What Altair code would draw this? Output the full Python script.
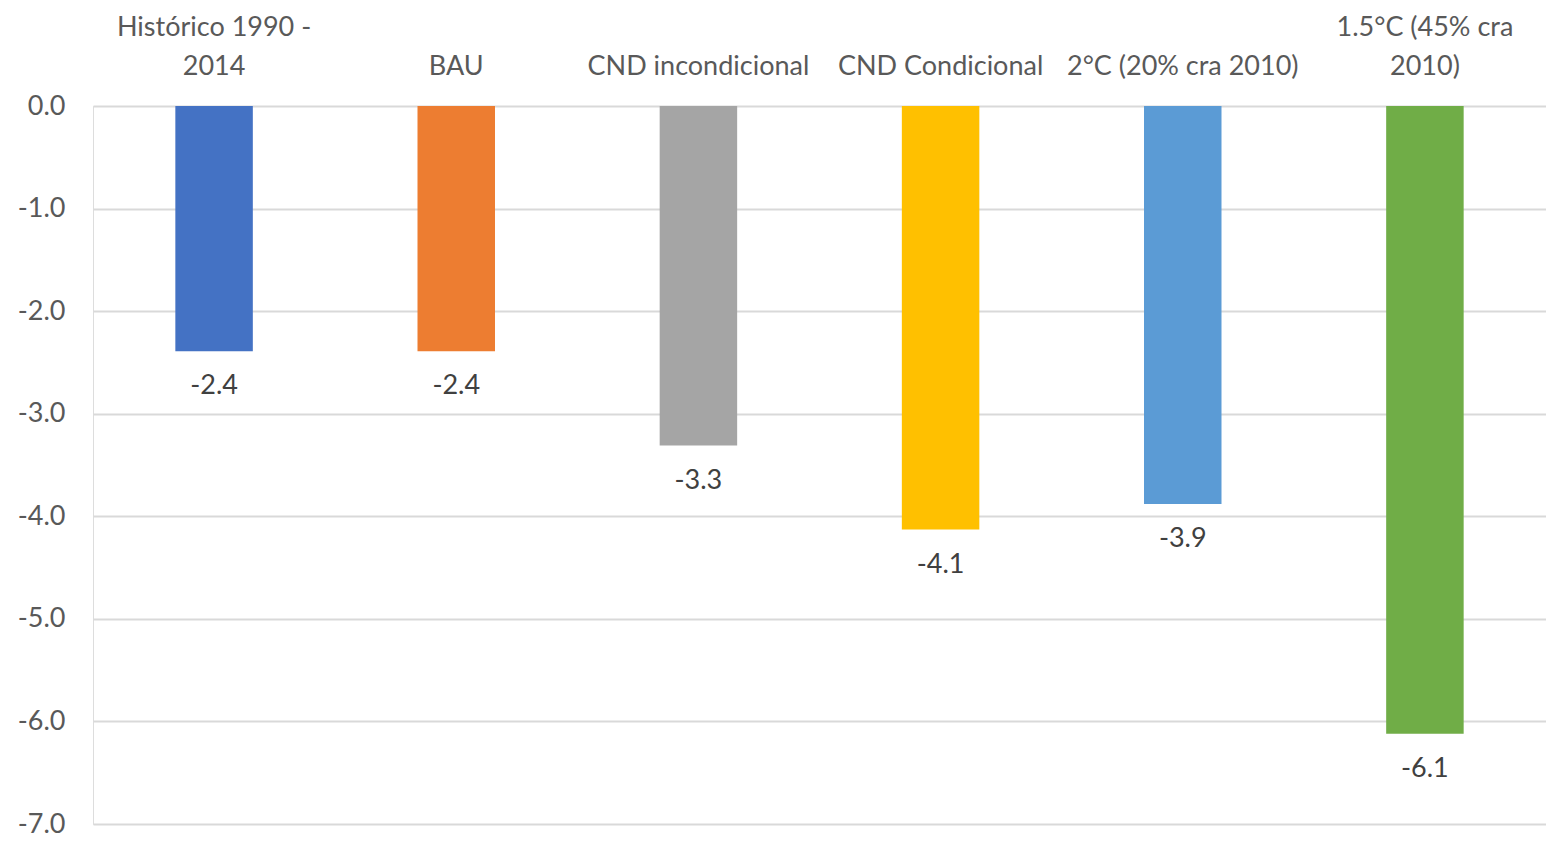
import altair as alt
import pandas as pd

categories = ["Histórico 1990 -|2014", "|BAU", "|CND incondicional", "|CND Condicional",
              "|2°C (20% cra 2010)", "1.5°C (45% cra|2010)"]
values = [-2.39, -2.39, -3.31, -4.13, -3.88, -6.12]
labels = ["-2.4", "-2.4", "-3.3", "-4.1", "-3.9", "-6.1"]
colors = ["#4472C4", "#ED7D31", "#A5A5A5", "#FFC000", "#5B9BD5", "#70AD47"]

df = pd.DataFrame({"cat": categories, "val": values, "lab": labels})

FONT = "Lato"

x = alt.X("cat:N", sort=None, title=None,
          scale=alt.Scale(paddingInner=0.68, paddingOuter=0.34),
          axis=alt.Axis(orient="top", labelAngle=0, ticks=False, domain=False,
                        labelExpr="split(datum.label, '|')", labelFontSize=27,
                        labelColor="#595959", labelFont=FONT, labelLimit=400,
                        labelLineHeight=39, labelPadding=65, labelOverlap=False))
y = alt.Y("val:Q", title=None,
          scale=alt.Scale(domain=[-7, 0], nice=False),
          axis=alt.Axis(values=[0, -1, -2, -3, -4, -5, -6, -7],
                        labelExpr="replace(format(datum.value, '.1f'), '\u2212', '-')",
                        ticks=False, domain=False, gridColor="#D9D9D9", gridWidth=2,
                        labelFontSize=27, labelColor="#595959", labelFont=FONT,
                        labelPadding=28))

bars = alt.Chart(df).mark_bar().encode(
    x=x, y=y,
    color=alt.Color("cat:N", sort=None, legend=None,
                    scale=alt.Scale(domain=categories, range=colors)),
)

text = alt.Chart(df).mark_text(baseline="top", dy=22, fontSize=27, font=FONT,
                               color="#404040").encode(
    x=alt.X("cat:N", sort=None), y="val:Q", text="lab:N")

chart = (bars + text).properties(
    width=1453, height=718,
    autosize=alt.AutoSizeParams(type="none"),
    padding={"left": 85, "top": 98, "right": 0, "bottom": 18},
).configure_view(stroke=None).configure(background="white")

chart.save("out.html", embed_options={"renderer": "svg", "actions": False})
